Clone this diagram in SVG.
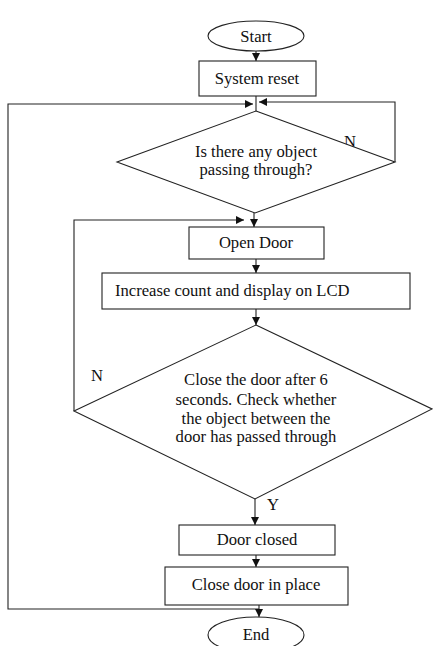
<svg xmlns="http://www.w3.org/2000/svg" width="433" height="646" viewBox="0 0 433 646">
<style>
.s{fill:#fff;stroke:#222;stroke-width:1.1}
.c{fill:none;stroke:#222;stroke-width:1.1}
text{font-family:"Liberation Serif","Times New Roman",serif;font-size:16.6px;fill:#111}
.m{text-anchor:middle}
</style>
<defs>
<marker id="ah" viewBox="0 0 10 10" refX="10" refY="5" markerWidth="8" markerHeight="8" markerUnits="userSpaceOnUse" orient="auto">
<path d="M0,0 L10,5 L0,10 z" fill="#111"/>
</marker>
</defs>
<g id="connectors">
<line class="c" x1="256" y1="51" x2="256" y2="61" marker-end="url(#ah)"/>
<line class="c" x1="256" y1="96" x2="256" y2="111"/>
<polyline class="c" points="259,609 8,609 8,104 253,104" marker-end="url(#ah)"/>
<polyline class="c" points="395,162 395,102 259,102" marker-end="url(#ah)"/>
<line class="c" x1="254" y1="213" x2="254" y2="227" marker-end="url(#ah)"/>
<polyline class="c" points="74,411 74,220 244,220" marker-end="url(#ah)"/>
<line class="c" x1="256" y1="259" x2="256" y2="273" marker-end="url(#ah)"/>
<line class="c" x1="256" y1="309" x2="256" y2="325" marker-end="url(#ah)"/>
<line class="c" x1="255" y1="499" x2="255" y2="525" marker-end="url(#ah)"/>
<line class="c" x1="256" y1="555" x2="256" y2="567" marker-end="url(#ah)"/>
<line class="c" x1="259" y1="605" x2="259" y2="617" marker-end="url(#ah)"/>
<text x="350" y="147" class="m">N</text>
<text x="97" y="381" class="m">N</text>
<text x="273" y="510" class="m">Y</text>
</g>
<g id="start">
<ellipse class="s" cx="256" cy="36" rx="48" ry="15"/>
<text x="256" y="41.5" class="m">Start</text>
</g>
<g id="reset">
<rect class="s" x="199" y="61" width="117" height="35"/>
<text x="257" y="84" class="m">System reset</text>
</g>
<g id="decision1">
<polygon class="s" points="256,111 395,162 255,213 117,162"/>
<text x="256" y="157" class="m">Is there any object</text>
<text x="256" y="175" class="m">passing through?</text>
</g>
<g id="open">
<rect class="s" x="189" y="227" width="135" height="32"/>
<text x="256" y="248" class="m">Open Door</text>
</g>
<g id="count">
<rect class="s" x="102" y="273" width="308" height="36"/>
<text x="115" y="296">Increase count and display on LCD</text>
</g>
<g id="decision2">
<polygon class="s" points="256,325 432,409 255,499 74,411"/>
<text x="256" y="385" class="m">Close the door after 6</text>
<text x="256" y="405" class="m">seconds. Check whether</text>
<text x="256" y="424" class="m">the object between the</text>
<text x="256" y="442" class="m">door has passed through</text>
</g>
<g id="closed">
<rect class="s" x="179" y="525" width="156" height="30"/>
<text x="257" y="545" class="m">Door closed</text>
</g>
<g id="inplace">
<rect class="s" x="165" y="567" width="183" height="38"/>
<text x="256" y="590" class="m">Close door in place</text>
</g>
<g id="end">
<ellipse class="s" cx="256" cy="635" rx="48" ry="18"/>
<text x="256" y="640" class="m">End</text>
</g>
</svg>
